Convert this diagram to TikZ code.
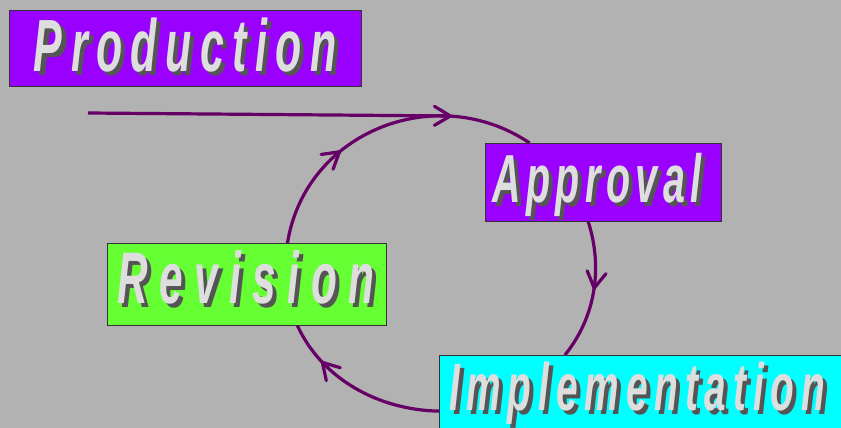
\documentclass[tikz,border=0pt]{standalone}
\usepackage{fontspec}
\usepackage{tikz}
\usetikzlibrary{arrows.meta,decorations.markings}
\newfontfamily\stagefont[FakeStretch=0.58]{Liberation Sans}
\definecolor{bgGray}{RGB}{178,178,178}
\definecolor{stPurple}{RGB}{153,0,255}
\definecolor{stGreen}{RGB}{102,255,51}
\definecolor{stCyan}{RGB}{0,255,255}
\definecolor{loopPlum}{RGB}{102,0,102}
\definecolor{txtShadow}{RGB}{85,85,85}
\definecolor{txtFace}{RGB}{222,222,222}
\pgfdeclarelayer{back}
\pgfsetlayers{back,main}
% size, letter spacing, word
\newcommand{\stagetext}[3]{{\stagefont\addfontfeature{LetterSpace=#2}\fontsize{#1}{#1}\selectfont\bfseries\itshape #3}}

\begin{document}
\begin{tikzpicture}[x=1pt, y=1pt]%
  \tikzset{loop line/.style={draw, line width=3.2pt, loopPlum},
    barb/.style={-{Straight Barb[length=16pt, width=19pt, round]}},
    mid arrow/.style={decoration={markings, mark=at position #1 with {\arrow{Straight Barb[length=16pt, width=19pt, round]}}}, postaction={decorate}},
    stage/.style={draw=black!80, line width=0.8pt, inner sep=0pt, outer sep=0pt},
    shadow text/.style={inner sep=0pt, outer sep=0pt, anchor=base west, text=txtShadow},
    stage text/.style={inner sep=0pt, outer sep=0pt, anchor=base west, text=txtFace}}
  \useasboundingbox (0,0) rectangle (841,-428);

  \node[stage, fill=stPurple, minimum width=352, minimum height=76] at (185,-48) (Prod) {};
  \node[stage, fill=stPurple, minimum width=236, minimum height=78] at (603,-182) (Appr) {};
  \node[stage, fill=stGreen, minimum width=279, minimum height=82] at (246.5,-284) (Rev) {};
  \node[stage, fill=stCyan, minimum width=403, minimum height=77] at (640.5,-393.5) (Impl) {};

  % labels: dark shadow first, light letters on top
  \node[shadow text] at (38,-76) (ProdShadow) {\stagetext{74}{11.4}{Production}};
  \node[stage text] at ([shift={(-4,4)}]ProdShadow.base west) (ProdText) {\stagetext{74}{11.4}{Production}};
  \node[shadow text] at (496,-206) (ApprShadow) {\stagetext{68}{8.2}{Approval}};
  \node[stage text] at ([shift={(-4,4)}]ApprShadow.base west) (ApprText) {\stagetext{68}{8.2}{Approval}};
  \node[shadow text] at (121,-307) (RevShadow) {\stagetext{73}{15.9}{Revision}};
  \node[stage text] at ([shift={(-4,4)}]RevShadow.base west) (RevText) {\stagetext{73}{15.9}{Revision}};
  \node[shadow text] at (453,-414) (ImplShadow) {\stagetext{67}{10.2}{Implementation}};
  \node[stage text] at ([shift={(-4,4)}]ImplShadow.base west) (ImplText) {\stagetext{67}{10.2}{Implementation}};

  \coordinate (feedStart) at (88,-113);
  \coordinate (loopTop) at (452,-116);

  \begin{pgfonlayer}{back}
    \fill[bgGray] (0,0) rectangle (841,-428);
    \path[loop line, barb] (feedStart) -- (loopTop);
    \path[loop line, mid arrow=0.35] (Rev.45) to[out=81, in=146, looseness=1.1] (Appr.152.5);
    \path[loop line, mid arrow=0.49] (Appr.249) to[out=-72, in=51, looseness=0.92] (Impl.153.6);
    \path[loop line, mid arrow=0.75] (Impl.185.5) to[out=179, in=-65.6, looseness=0.92] (Rev.321.5);
  \end{pgfonlayer}
\end{tikzpicture}
\end{document}
